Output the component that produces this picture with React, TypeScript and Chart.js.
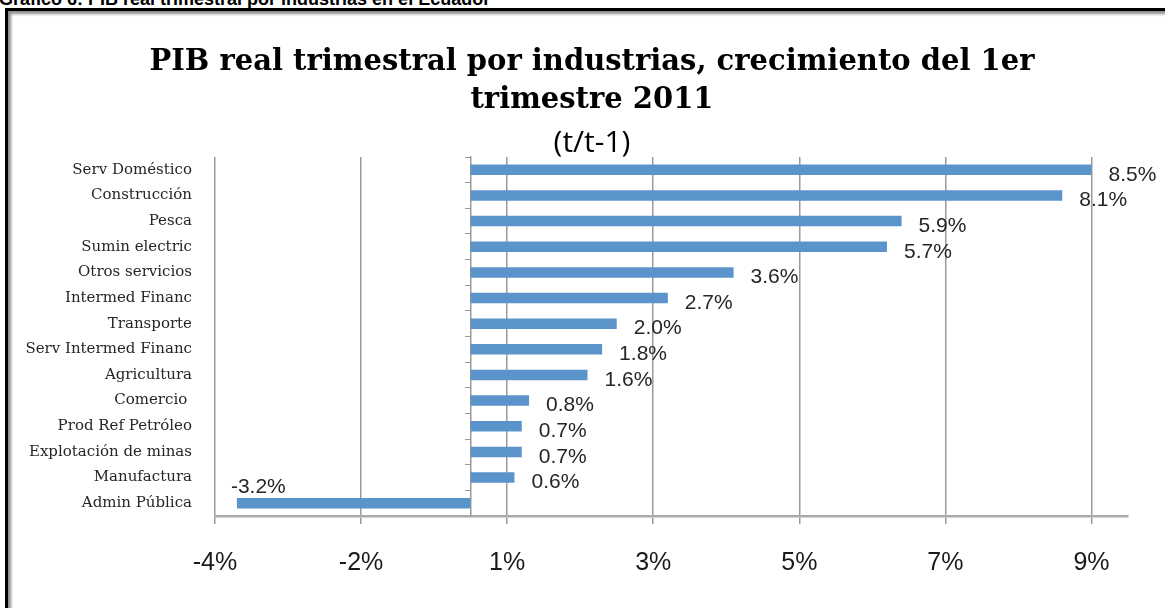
import React, { useEffect, useRef } from "react";
import { Chart, registerables } from "chart.js";

Chart.register(...registerables);

const categories = [
  "Serv Doméstico",
  "Construcción",
  "Pesca",
  "Sumin electric",
  "Otros servicios",
  "Intermed Financ",
  "Transporte",
  "Serv Intermed Financ",
  "Agricultura",
  "Comercio ",
  "Prod Ref Petróleo",
  "Explotación de minas",
  "Manufactura",
  "Admin Pública",
];

const growthValues = [8.5, 8.1, 5.9, 5.7, 3.6, 2.7, 2.0, 1.8, 1.6, 0.8, 0.7, 0.7, 0.6, -3.2];

const xTickValues = [-3.5, -1.5, 0.5, 2.5, 4.5, 6.5, 8.5];
const xTickLabels = ["-4%", "-2%", "1%", "3%", "5%", "7%", "9%"];

const titleLines = ["PIB real trimestral por industrias, crecimiento del 1er", "trimestre 2011"];
const subtitleText = "(t/t-1)";
const captionText = "Gráfico 6: PIB real trimestral por industrias en el Ecuador";

const dataLabelPlugin = {
  id: "dataLabels",
  afterDatasetsDraw(chart: any) {
    const ctx = chart.ctx;
    const meta = chart.getDatasetMeta(0);
    ctx.save();
    ctx.font = "21px 'Liberation Sans', Arial, sans-serif";
    ctx.fillStyle = "#262626";
    ctx.textBaseline = "middle";
    ctx.textAlign = "left";
    meta.data.forEach((el: any, i: number) => {
      const v = growthValues[i];
      const txt = v.toFixed(1) + "%";
      if (v >= 0) {
        ctx.fillText(txt, el.x + 17, el.y + 5);
      } else {
        ctx.fillText(txt, el.x - 6, el.y - 16);
      }
    });
    ctx.restore();
  },
};

export default function App() {
  const canvasRef = useRef<HTMLCanvasElement | null>(null);

  useEffect(() => {
    if (!canvasRef.current) return;
    const chart = new Chart(canvasRef.current, {
      type: "bar",
      data: {
        labels: categories,
        datasets: [
          {
            data: growthValues,
            backgroundColor: "#5b94cb",
            borderWidth: 0,
            barPercentage: 0.41,
            categoryPercentage: 1,
          },
        ],
      },
      plugins: [dataLabelPlugin],
      options: {
        indexAxis: "y",
        animation: false,
        responsive: false,
        devicePixelRatio: 1,
        layout: { padding: { left: 56, right: 37, top: 0, bottom: 0 } },
        plugins: {
          legend: { display: false },
          tooltip: { enabled: false },
          title: {
            display: true,
            text: titleLines,
            color: "#000",
            font: { family: "'DejaVu Serif', serif", weight: "bold", size: 29, lineHeight: 38 / 29 },
            padding: { top: 43, bottom: 10 },
          },
          subtitle: {
            display: true,
            text: subtitleText,
            color: "#000",
            font: { family: "'Open Sans', sans-serif", size: 30, lineHeight: 28 / 30 },
            padding: { top: 0, bottom: 0 },
          },
        },
        scales: {
          x: {
            type: "linear",
            min: -3.5,
            max: 9,
            afterBuildTicks: (scale: any) => {
              scale.ticks = xTickValues.map((v) => ({ value: v }));
            },
            afterFit: (scale: any) => {
              scale.height = 92;
            },
            grid: {
              color: "#9a9a9a",
              lineWidth: 1.5,
              drawTicks: true,
              tickLength: 8,
              tickColor: "#9a9a9a",
            },
            border: { display: true, color: "#ababab", width: 2.5 },
            ticks: {
              callback: (_v: any, i: number) => xTickLabels[i],
              font: { family: "'Liberation Sans', Arial, sans-serif", size: 25, lineHeight: 1.2 },
              color: "#1a1a1a",
              padding: 24,
              maxRotation: 0,
              autoSkip: false,
            },
          },
          y: {
            type: "category",
            position: "left",
            afterFit: (scale: any) => {
              scale.width = 159;
              scale._computeLabelArea = () => undefined;
            },
            grid: { display: false, drawTicks: false },
            border: { display: false },
            ticks: {
              font: { family: "'DejaVu Serif', serif", size: 15 },
              color: "#262626",
              padding: 23,
              autoSkip: false,
            },
          },
          y2: {
            type: "category",
            position: { x: 0 },
            offset: true,
            grid: {
              offset: true,
              drawOnChartArea: false,
              drawTicks: true,
              tickLength: 5,
              color: "#9a9a9a",
              lineWidth: 1,
            },
            border: { display: true, color: "#9a9a9a", width: 1.5 },
            ticks: { display: false },
          },
        },
      } as any,
    });
    return () => chart.destroy();
  }, []);

  return (
    <div
      style={{
        position: "absolute",
        left: 0,
        top: 0,
        width: 1165,
        height: 608,
        overflow: "hidden",
        background: "#fff",
      }}
    >
      <div
        style={{
          position: "absolute",
          left: -1,
          top: -11,
          font: "bold 18px 'Liberation Sans', Arial, sans-serif",
          color: "#000",
          whiteSpace: "nowrap",
          lineHeight: "20px",
        }}
      >
        {captionText}
      </div>
      <div
        style={{
          position: "absolute",
          left: 5,
          top: 8,
          width: 1400,
          height: 800,
          borderLeft: "3px solid #000",
          borderTop: "3px solid #000",
          boxShadow: "inset 3px 3px 3px rgba(0,0,0,0.45)",
        }}
      />
      <canvas
        ref={canvasRef}
        width={1165}
        height={608}
        style={{ position: "absolute", left: 0, top: 0, width: 1165, height: 608 }}
      />
    </div>
  );
}
